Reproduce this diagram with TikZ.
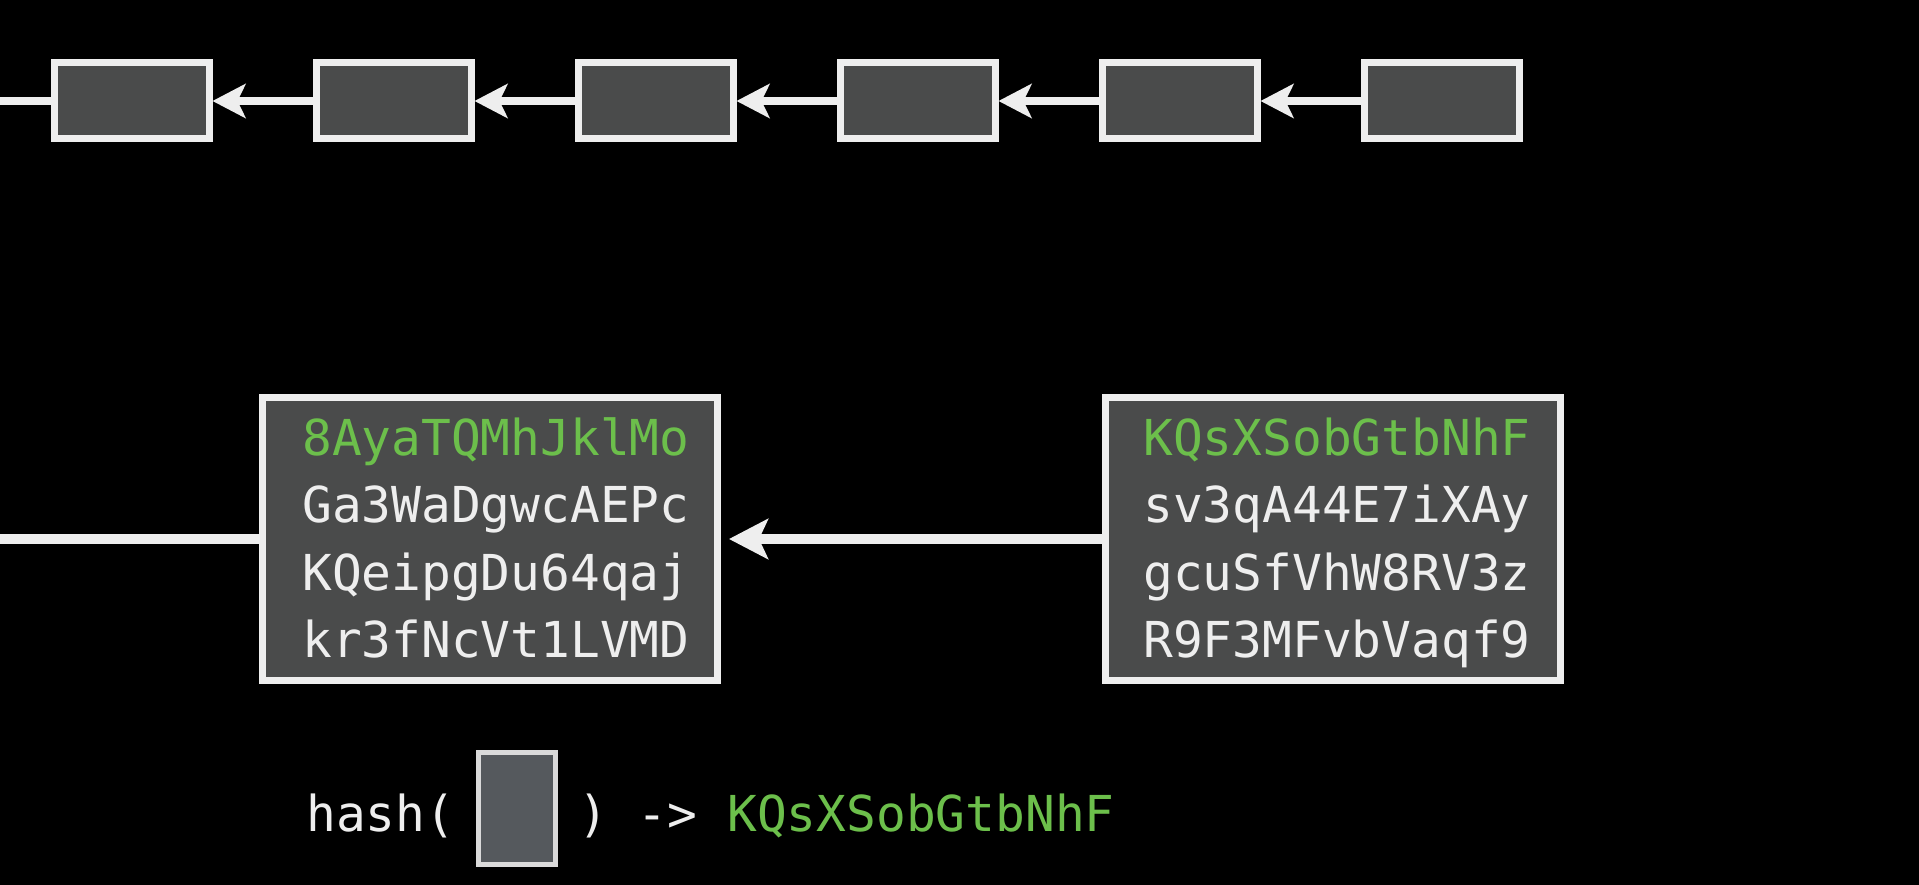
\documentclass[tikz,border=0pt]{standalone}
\usepackage{fontspec}
\setmonofont{DejaVu Sans Mono}
\usetikzlibrary{arrows.meta}
\definecolor{bg}{HTML}{000000}
\definecolor{boxfill}{HTML}{4A4B4B}
\definecolor{boxline}{HTML}{EEEEEE}
\definecolor{hashgreen}{HTML}{6CBF4B}
\definecolor{smallfill}{HTML}{55595D}
\definecolor{smallline}{HTML}{DADADA}
\begin{document}
\begin{tikzpicture}[x=1pt,y=-1pt,
  blk/.style={draw=boxline, fill=boxfill, line width=7pt, inner sep=0pt, minimum width=155pt, minimum height=76pt},
  big/.style={draw=boxline, fill=boxfill, line width=7pt, inner sep=0pt, minimum width=455pt, minimum height=283pt},
  small/.style={draw=smallline, fill=smallfill, line width=5pt, inner sep=0pt, minimum width=77pt, minimum height=112pt},
  link/.style={draw=boxline, line width=8pt},
  arr/.style={link, -{Stealth[length=33pt,width=34pt,inset=8pt]}},
  biglink/.style={draw=boxline, line width=10pt},
  bigarr/.style={biglink, -{Stealth[length=39pt,width=40pt,inset=9pt]}},
  code/.style={font=\fontsize{49.5}{60}\selectfont\ttfamily, text=boxline, inner sep=0pt, anchor=base west},
  hl/.style={text=hashgreen}]
\useasboundingbox (0,0) rectangle (1919,885);
\fill[bg] (0,0) rectangle (1919,885);
% top chain
\foreach \i in {1,...,6}
  \node[blk] (b\i) at ({131.5+262*(\i-1)},101) {};
\coordinate (s0) at (0,101);
\draw[link] (s0) -- (b1.west);
\foreach \i [evaluate=\i as \j using int(\i+1)] in {1,...,5}
  \draw[arr] (b\j.west) -- (b\i.east);
% bottom blocks
\node[big] (L) at (490,539) {};
\node[big] (R) at (1332.5,539) {};
\coordinate (s1) at (0,539);
\draw[biglink] (s1) -- (L.west);
\draw[bigarr, shorten >=8pt] (R.west) -- (L.east);
% texts left
\node[code, hl] (l1) at (302,455) {8AyaTQMhJklMo};
\node[code] (l2) at (302,522) {Ga3WaDgwcAEPc};
\node[code] (l3) at (302,590) {KQeipgDu64qaj};
\node[code] (l4) at (302,657) {kr3fNcVt1LVMD};
% texts right
\node[code, hl] (r1) at (1143,455) {KQsXSobGtbNhF};
\node[code] (r2) at (1143,522) {sv3qA44E7iXAy};
\node[code] (r3) at (1143,590) {gcuSfVhW8RV3z};
\node[code] (r4) at (1143,657) {R9F3MFvbVaqf9};
% hash line
\node[code] (h1) at (306,831) {hash(};
\node[small] (hb) at (517,808.5) {};
\node[code] (h2) at (578,831) {) -> \textcolor{hashgreen}{KQsXSobGtbNhF}};
\end{tikzpicture}
\end{document}
